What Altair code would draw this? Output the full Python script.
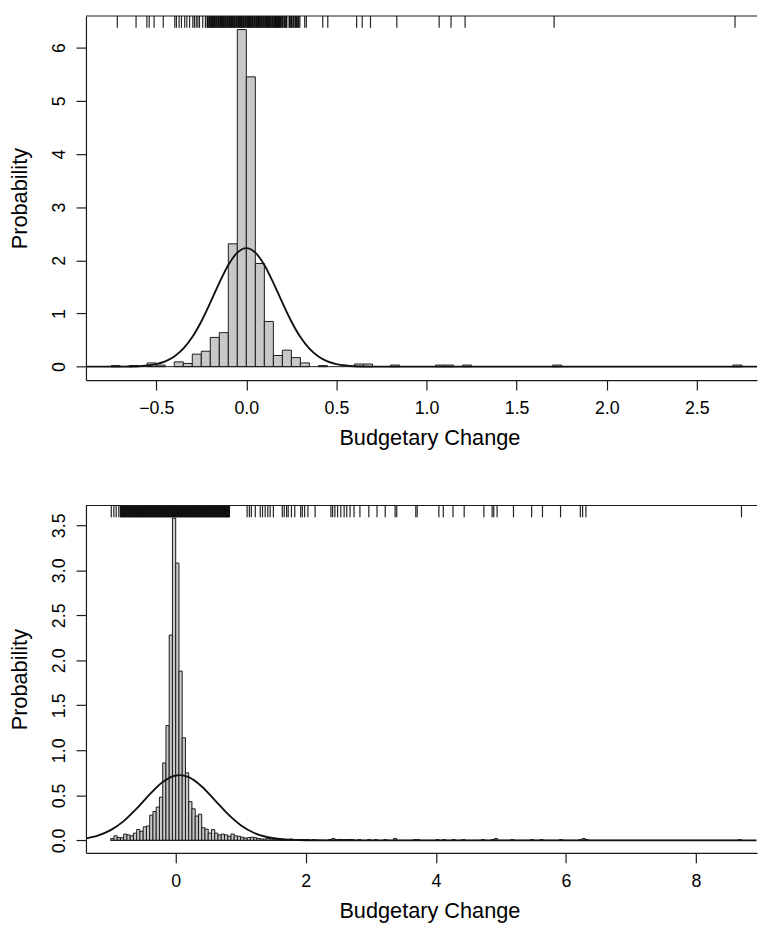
import altair as alt
import pandas as pd

FONT = "Liberation Sans"
BAR_FILL = "#c8c8c8"
INK = "#1a1a1a"

# ---------------- top panel data ----------------
top_bin_left = [-0.75, -0.65, -0.55, -0.50, -0.40, -0.35, -0.30, -0.25, -0.20, -0.15,
                -0.10, -0.05, 0.00, 0.05, 0.10, 0.15, 0.20, 0.25, 0.30, 0.40,
                0.60, 0.65, 0.80, 1.05, 1.10, 1.20, 1.70, 2.70]
top_density = [0.02, 0.02, 0.07, 0.03, 0.09, 0.06, 0.235, 0.29, 0.55, 0.64,
               2.31, 6.34, 5.45, 1.94, 0.85, 0.21, 0.31, 0.17, 0.07, 0.02,
               0.05, 0.05, 0.03, 0.03, 0.03, 0.03, 0.03, 0.03]
top_curve_x = [-0.89, -0.8, -0.7, -0.6, -0.55, -0.5, -0.45, -0.4, -0.35, -0.3, -0.25, -0.2,
               -0.15, -0.1, -0.05, 0.0, 0.05, 0.1, 0.15, 0.2, 0.25, 0.3, 0.35, 0.4,
               0.45, 0.5, 0.55, 0.6, 0.7, 0.8, 1.0, 2.84]
top_curve_y = [0.0, 0.0002, 0.0012, 0.0086, 0.021, 0.047, 0.098, 0.189, 0.337, 0.556, 0.850, 1.203,
               1.576, 1.912, 2.145, 2.23, 2.145, 1.912, 1.576, 1.203, 0.850, 0.556, 0.337, 0.189,
               0.098, 0.047, 0.021, 0.0086, 0.0012, 0.0002, 0.0, 0.0]
# isolated rug ticks and the dense run of ticks around zero
top_rug_sparse = [-0.716, -0.612, -0.552, -0.539, -0.512, -0.461, -0.397, -0.388, -0.373, -0.360,
                  -0.342, -0.330, -0.315, -0.297, -0.288, -0.278, -0.269, -0.260, -0.242, -0.227,
                  0.297, 0.324, 0.333, 0.424, 0.452, 0.612, 0.643, 0.689, 0.835, 1.070,
                  1.136, 1.214, 1.708, 2.712]
top_rug_dense = [-0.215, -0.205, -0.195, -0.185, -0.175, -0.165, -0.155, -0.145, -0.135, -0.125,
                 -0.115, -0.105, -0.095, -0.085, -0.075, -0.065, -0.055, -0.045, -0.035, -0.025,
                 -0.015, -0.005, 0.005, 0.015, 0.025, 0.035, 0.045, 0.055, 0.065, 0.075,
                 0.085, 0.095, 0.105, 0.115, 0.125, 0.135, 0.145, 0.155, 0.165, 0.170,
                 0.181, 0.190, 0.200, 0.212, 0.222, 0.240, 0.250, 0.262, 0.275, 0.288]

# ---------------- bottom panel data ----------------
bot_bin_left = [-1.00, -0.95, -0.90, -0.85, -0.80, -0.75, -0.70, -0.65, -0.60, -0.55,
                -0.50, -0.45, -0.40, -0.35, -0.30, -0.25, -0.20, -0.15, -0.10, -0.05,
                0.00, 0.05, 0.10, 0.15, 0.20, 0.25, 0.30, 0.35, 0.40, 0.45,
                0.50, 0.55, 0.60, 0.65, 0.70, 0.75, 0.80, 0.85, 0.90, 0.95,
                1.00, 1.05, 1.10, 1.15, 1.20, 1.25, 1.30, 1.35, 1.40, 1.45,
                1.50, 1.55, 1.60, 1.65, 1.70, 1.75, 1.80, 1.85, 1.90, 1.95,
                2.00, 2.10, 2.35, 2.40, 2.45, 2.50, 2.55, 2.60, 2.65, 2.70,
                2.80, 2.95, 3.05, 3.20, 3.35, 3.65, 3.70, 4.00, 4.10, 4.25,
                4.40, 4.70, 4.85, 4.90, 5.15, 5.45, 5.60, 5.90, 6.20, 6.25,
                6.30, 8.65]
bot_density = [0.02, 0.05, 0.03, 0.03, 0.07, 0.06, 0.05, 0.08, 0.12, 0.10,
               0.15, 0.16, 0.28, 0.32, 0.37, 0.48, 0.86, 1.275, 2.28, 3.58,
               3.08, 1.88, 1.14, 0.75, 0.43, 0.35, 0.27, 0.29, 0.14, 0.125,
               0.08, 0.12, 0.08, 0.06, 0.07, 0.06, 0.045, 0.07, 0.05, 0.045,
               0.035, 0.025, 0.03, 0.035, 0.03, 0.02, 0.015, 0.015, 0.02, 0.015,
               0.012, 0.012, 0.015, 0.01, 0.01, 0.015, 0.01, 0.008, 0.01, 0.008,
               0.01, 0.008, 0.01, 0.02, 0.008, 0.01, 0.008, 0.008, 0.01, 0.008,
               0.008, 0.008, 0.008, 0.008, 0.02, 0.008, 0.008, 0.008, 0.008, 0.008,
               0.008, 0.008, 0.008, 0.02, 0.008, 0.008, 0.008, 0.008, 0.008, 0.02,
               0.008, 0.008]
bot_curve_x = [-1.38, -1.2, -1.0, -0.8, -0.6, -0.4, -0.2, 0.0, 0.06, 0.2, 0.4, 0.6,
               0.8, 1.0, 1.2, 1.4, 1.6, 1.8, 2.0, 2.4, 3.0, 8.93]
bot_curve_y = [0.0224, 0.0526, 0.1132, 0.2135, 0.3529, 0.511, 0.648, 0.7207, 0.725, 0.7019,
               0.599, 0.4478, 0.2933, 0.1683, 0.0846, 0.0373, 0.0144, 0.0049, 0.0014, 0.0001,
               0.0, 0.0]
bot_rug_sparse = [-0.991, -0.951, -0.915, -0.875, -0.850,
                  1.098, 1.133, 1.163, 1.224, 1.300, 1.335, 1.376, 1.416, 1.452, 1.502,
                  1.639, 1.669, 1.705, 1.730, 1.780, 1.831, 1.922, 1.947, 1.983, 2.033,
                  2.144, 2.387, 2.413, 2.448, 2.489, 2.539, 2.590, 2.630, 2.681, 2.742,
                  2.833, 2.970, 3.096, 3.222, 3.374, 3.399, 3.692, 3.713, 4.047, 4.115,
                  4.264, 4.436, 4.739, 4.866, 4.891, 4.942, 5.194, 5.473, 5.640, 5.918,
                  6.222, 6.257, 6.308, 8.700]
bot_rug_dense = [-0.835, -0.815, -0.795, -0.775, -0.755, -0.735, -0.715, -0.695, -0.675, -0.655,
                 -0.635, -0.615, -0.595, -0.575, -0.555, -0.535, -0.515, -0.495, -0.475, -0.455,
                 -0.435, -0.415, -0.395, -0.375, -0.355, -0.335, -0.315, -0.295, -0.275, -0.255,
                 -0.235, -0.215, -0.195, -0.175, -0.155, -0.135, -0.115, -0.095, -0.075, -0.055,
                 -0.035, -0.015, 0.005, 0.025, 0.045, 0.065, 0.085, 0.105, 0.125, 0.145,
                 0.165, 0.185, 0.205, 0.225, 0.245, 0.265, 0.285, 0.305, 0.325, 0.345,
                 0.365, 0.385, 0.405, 0.425, 0.445, 0.465, 0.485, 0.505, 0.525, 0.545,
                 0.565, 0.585, 0.605, 0.625, 0.645, 0.665, 0.685, 0.705, 0.725, 0.745,
                 0.765, 0.785, 0.794, 0.819]

BIN_W = 0.05
W = 680


def panel(bin_left, density, curve_x, curve_y, rug_sparse, rug_dense, xdom, ydom, H,
          xvals, xfmt, yvals, yfmt, base_lo, base_hi):
    bars_df = pd.DataFrame({"lo": bin_left,
                            "hi": [b + BIN_W for b in bin_left],
                            "density": density,
                            "base": [0.0] * len(bin_left)})
    curve_df = pd.DataFrame({"lo": curve_x, "density": curve_y})
    sparse_df = pd.DataFrame({"lo": rug_sparse})
    dense_df = pd.DataFrame({"lo": rug_dense})
    base_df = pd.DataFrame({"lo": [base_lo], "hi": [base_hi], "density": [0.0]})

    xs = alt.Scale(domain=xdom, nice=False, zero=False)
    ys = alt.Scale(domain=ydom, nice=False, zero=False)
    xaxis = alt.Axis(values=xvals, format=xfmt, title="Budgetary Change",
                     tickSize=10, labelPadding=10, titlePadding=10, grid=False,
                     labelFlush=False, labelOverlap=False, titleX=348)
    yaxis = alt.Axis(values=yvals, format=yfmt, title="Probability",
                     labelAngle=270, labelAlign="center", labelBaseline="bottom",
                     tickSize=10, labelPadding=8, titlePadding=19, grid=False,
                     labelFlush=False, labelOverlap=False)
    X = alt.X("lo:Q", scale=xs, axis=xaxis)
    Y = alt.Y("density:Q", scale=ys, axis=yaxis)

    bars = alt.Chart(bars_df).mark_rect(
        fill=BAR_FILL, stroke=INK, strokeWidth=1, clip=True
    ).encode(x=X, x2="hi", y=Y, y2="base")
    base = alt.Chart(base_df).mark_rule(color=INK, strokeWidth=1).encode(
        x=X, x2="hi", y=Y,
    )
    curve = alt.Chart(curve_df).mark_line(
        color="#111111", strokeWidth=1.9, interpolate="monotone", clip=True
    ).encode(x=X, y=Y)
    rug1 = alt.Chart(sparse_df).mark_rule(color="#222222", strokeWidth=1.2).encode(
        x=X, y=alt.value(0), y2=alt.value(12),
    )
    rug2 = alt.Chart(dense_df).mark_rule(color="#111111", strokeWidth=2.2).encode(
        x=X, y=alt.value(0), y2=alt.value(12),
    )
    top_line = alt.Chart(base_df).mark_rule(color=INK, strokeWidth=1.2).encode(
        x=alt.value(0), x2=alt.value(W), y=alt.value(0),
    )
    return alt.layer(bars, base, curve, rug1, rug2, top_line).properties(width=W, height=H)


top = panel(top_bin_left, top_density, top_curve_x, top_curve_y,
            top_rug_sparse, top_rug_dense,
            [-0.89, 2.834], [-0.254, 6.594], 369,
            [-0.5, 0.0, 0.5, 1.0, 1.5, 2.0, 2.5], ".1f",
            [0, 1, 2, 3, 4, 5, 6], "d", -0.75, 2.75)

bottom = panel(bot_bin_left, bot_density, bot_curve_x, bot_curve_y,
               bot_rug_sparse, bot_rug_dense,
               [-1.38, 8.939], [-0.139, 3.72], 352,
               [0, 2, 4, 6, 8], "d",
               [0.0, 0.5, 1.0, 1.5, 2.0, 2.5, 3.0, 3.5], ".1f", -1.0, 8.7)

chart = alt.vconcat(top, bottom, spacing=56).properties(
    padding={"left": 0, "top": 0, "right": 0, "bottom": 0}
).configure_view(stroke=None).configure_axis(
    labelFont=FONT, titleFont=FONT, labelFontSize=18, titleFontSize=22,
    titleFontWeight="normal", labelColor="#000000", titleColor="#000000",
    domainColor=INK, tickColor=INK, domainWidth=1.2, tickWidth=1.2,
)

chart.save("out.html", embed_options={"renderer": "svg", "actions": False})
